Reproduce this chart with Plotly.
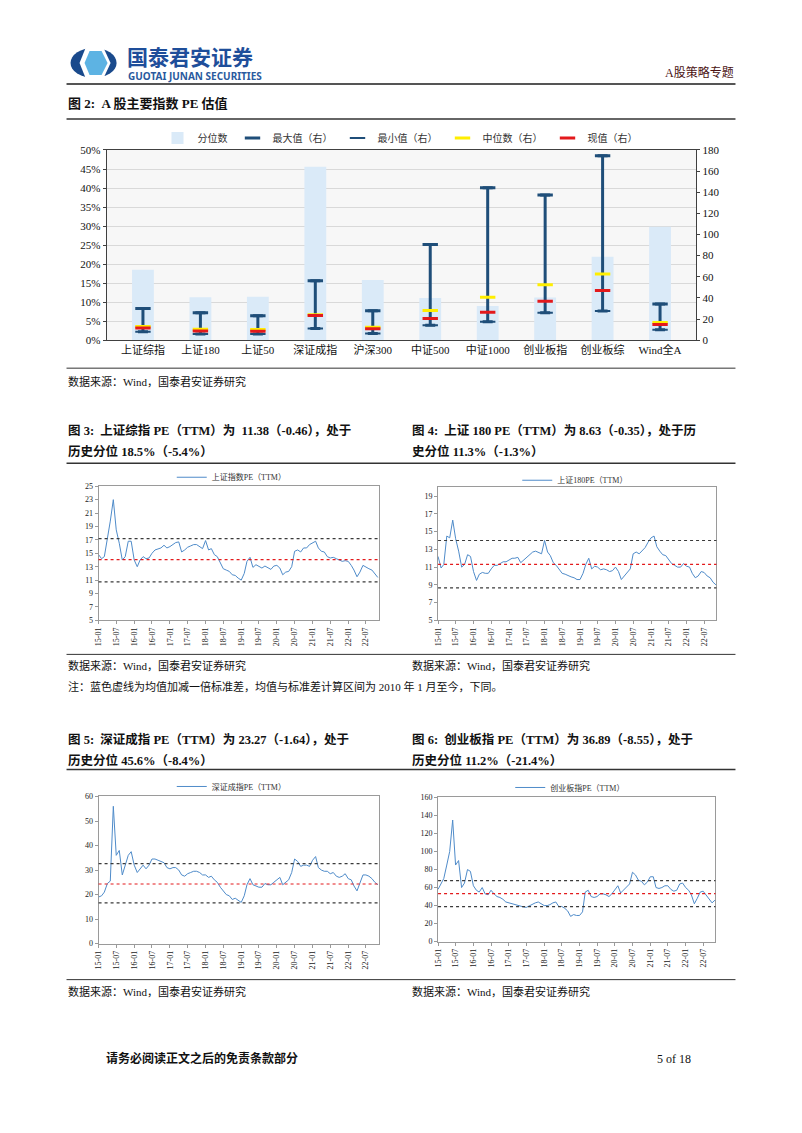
import plotly.graph_objects as go
import pandas as pd

# page is 802x1133; the html body keeps a margin, so the figure is drawn
# 16px smaller.  Page coordinates read off the reference are mapped onto
# figure coordinates with a small measured correction.
OFF = 8
W, H = 802 - 2 * OFF, 1133 - 2 * OFF
SX, BX = 0.9935, 4.6
SY, BY = 0.9885, 6.2


def px(x):
    return ((x - BX) / SX - OFF) / W


def py(y):
    return 1 - ((y - BY) / SY - OFF) / H


SERIF = "Liberation Serif, Noto Sans CJK SC, serif"
NAVY = "#1F4E79"
LINE_BLUE = "#4F8BC9"

# ---- 图2: A股主要指数PE估值 ----
index_names = ["上证综指", "上证180", "上证50", "深证成指", "沪深300",
               "中证500", "中证1000", "创业板指", "创业板综", "Wind全A"]
pe_percentile = [0.185, 0.113, 0.114, 0.456, 0.158, 0.111, 0.090, 0.112, 0.219, 0.298]
pe_max = [30.0, 26.0, 23.0, 56.2, 27.8, 90.6, 144.3, 137.4, 174.6, 34.1]
pe_min = [7.9, 5.7, 5.7, 11.0, 6.3, 14.2, 17.4, 25.9, 27.5, 9.8]
pe_median = [13.0, 10.3, 10.0, 24.0, 12.3, 28.1, 40.7, 52.4, 62.5, 16.7]
pe_now = [11.38, 8.63, 8.4, 23.27, 10.8, 20.5, 26.5, 36.89, 47.1, 14.8]

# ---- 图3-6: 指数PE(TTM) 月度走势 ----
month_dates = pd.date_range("2015-01-01", "2022-10-01", freq="MS").strftime("%Y-%m-%d").tolist() + ["2022-10-31"]
tick_dates = pd.date_range("2015-01-01", "2022-07-01", freq="6MS")
tick_vals = tick_dates.strftime("%Y-%m-%d").tolist()
tick_text = tick_dates.strftime("%y-%m").tolist()

sse_pe = [
    14.8, 14.2, 14.5, 17.0, 19.8, 23.0, 18.5, 16.5, 14.0, 14.5, 16.8, 16.8,
    14.0, 13.0, 14.0, 14.5, 14.2, 14.3, 15.0, 15.5, 15.6, 15.8, 16.2, 15.8,
    16.0, 16.3, 16.6, 16.7, 15.2, 15.5, 15.9, 16.1, 16.3, 16.3, 16.0, 15.7,
    16.9, 15.5, 15.7, 14.8, 14.5, 13.7, 12.7, 12.5, 12.3, 11.8, 11.7, 11.3,
    11.0, 12.0, 13.8, 14.4, 12.9, 13.3, 13.0, 12.8, 13.1, 12.8, 12.6, 13.1,
    13.2, 12.8, 11.8, 12.2, 12.3, 13.0, 15.3, 15.5, 15.2, 15.8, 15.8, 16.3,
    16.5, 16.8, 15.8, 15.3, 15.2, 14.5, 14.3, 14.4, 14.2, 14.0, 13.8, 13.9,
    13.8, 13.2, 12.5, 11.5, 12.2, 13.2, 12.9, 12.7, 12.5, 11.9, 11.4,
]
sse180_pe = [
    12.2, 10.9, 11.3, 14.5, 14.3, 16.3, 14.2, 12.8, 11.0, 11.3, 12.4, 12.2,
    10.5, 9.5, 10.2, 10.4, 10.3, 10.3, 10.8, 11.2, 11.2, 11.4, 11.6, 11.6,
    11.8, 12.0, 12.0, 12.1, 11.5, 11.8, 12.1, 12.4, 12.7, 12.8, 12.6, 12.5,
    14.0, 12.7, 12.3, 11.5, 11.2, 10.8, 10.3, 10.2, 10.0, 9.9, 9.8, 9.6,
    9.6, 10.3, 11.3, 12.0, 10.8, 11.1, 11.0, 10.7, 10.8, 10.7, 10.5, 10.6,
    11.0, 10.5, 9.6, 10.0, 10.3, 10.8, 12.5, 12.7, 12.5, 12.8, 13.2, 13.8,
    14.3, 14.5, 13.3, 12.8, 12.4, 12.3, 11.8, 11.4, 11.2, 11.0, 11.0, 11.4,
    11.1, 11.0, 10.3, 9.8, 10.0, 10.5, 10.4, 10.0, 9.8, 9.3, 9.0,
]
szse_pe = [
    19.0, 19.5, 21.0, 24.5, 25.5, 56.0, 36.0, 38.0, 28.0, 32.0, 36.0, 37.5,
    32.0, 29.0, 30.5, 32.0, 30.5, 32.0, 34.5, 34.5, 34.0, 33.5, 33.0, 31.0,
    30.5, 31.0, 31.0, 30.0, 28.0, 27.5, 28.5, 29.0, 29.5, 29.5, 29.0, 28.0,
    28.0, 27.0, 27.5, 26.0, 25.0, 23.0, 21.5, 20.0, 19.5, 18.0, 18.5, 17.5,
    16.8, 19.5, 24.0, 26.5, 24.0, 23.5, 23.0, 23.0, 24.5, 24.0, 24.0, 25.0,
    26.0, 27.0, 24.0, 25.0, 26.0, 29.0, 34.5, 33.5, 31.5, 32.0, 32.0, 31.5,
    34.0, 35.5, 31.0, 30.0, 29.5, 29.5, 28.5, 29.0, 27.5, 27.0, 27.5, 28.5,
    26.5, 26.0, 23.5, 21.5, 25.0, 28.0, 28.0, 27.5, 26.5, 25.0, 24.0,
]
chinext_pe = [
    58, 65, 70, 85, 100, 135, 85, 90, 60, 65, 80, 78,
    62, 57, 55, 60, 53, 52, 57, 53, 50, 49, 47, 44,
    43, 42, 41, 40, 39, 38.5, 38, 40, 42, 43, 44, 42,
    40, 40, 41, 43, 44, 39, 39, 37, 34, 28, 30, 29,
    29, 33, 55, 57, 50, 49, 50, 53, 53, 52, 50, 53,
    57, 62, 54, 57, 60, 64, 77, 74, 68, 67, 63, 66,
    72, 72, 60, 59, 60, 62, 62, 58, 56, 57, 64, 65,
    60, 57, 52, 42, 48, 55, 56, 52, 47, 43, 46,
]
# 均值, 均值+1std, 均值-1std
sse_bands = [14.05, 17.2, 10.75]
sse180_bands = [11.3, 14.0, 8.65]
szse_bands = [24.3, 32.6, 16.6]
chinext_bands = [53.3, 67.8, 38.9]

fig = go.Figure()

# ---------------- 图2 ----------------
fig.add_trace(go.Bar(
    x=index_names, y=pe_percentile, name="分位数",
    marker=dict(color="#DAEAF8", line=dict(width=0)), width=0.38,
    xaxis="x", yaxis="y", legend="legend",
))
fig.add_trace(go.Scatter(
    x=index_names, y=pe_max, name="最大值（右）", mode="markers",
    marker=dict(symbol="line-ew", size=11, line=dict(width=3, color=NAVY), color=NAVY),
    error_y=dict(type="data", symmetric=False, array=[0] * len(pe_max),
                 arrayminus=[a - b for a, b in zip(pe_max, pe_min)],
                 thickness=3, width=5, color=NAVY),
    xaxis="x", yaxis="y2", legend="legend",
))
fig.add_trace(go.Scatter(
    x=index_names, y=pe_min, name="最小值（右）", mode="markers",
    marker=dict(symbol="line-ew", size=11, line=dict(width=2, color=NAVY), color=NAVY),
    xaxis="x", yaxis="y2", legend="legend",
))
fig.add_trace(go.Scatter(
    x=index_names, y=pe_median, name="中位数（右）", mode="markers",
    marker=dict(symbol="line-ew", size=11, line=dict(width=3, color="#FFEE00"), color="#FFEE00"),
    xaxis="x", yaxis="y2", legend="legend",
))
fig.add_trace(go.Scatter(
    x=index_names, y=pe_now, name="现值（右）", mode="markers",
    marker=dict(symbol="line-ew", size=11, line=dict(width=3, color="#E3191C"), color="#E3191C"),
    xaxis="x", yaxis="y2", legend="legend",
))

# ---------------- 图3-6 ----------------
panels = [
    dict(name="上证指数PE（TTM）", values=sse_pe, bands=sse_bands, xa="x2", ya="y3",
         dx=(99, 379), dy=(486, 620), yr=[5, 25], yt=list(range(5, 26, 2)),
         leg="legend2", lx=232, ly=477, end="2022-11-12"),
    dict(name="上证180PE（TTM）", values=sse180_pe, bands=sse180_bands, xa="x3", ya="y4",
         dx=(438, 716), dy=(487, 620), yr=[5, 20], yt=list(range(5, 20, 2)),
         leg="legend3", lx=575, ly=480, end="2022-11-05"),
    dict(name="深证成指PE（TTM）", values=szse_pe, bands=szse_bands, xa="x4", ya="y5",
         dx=(99, 379), dy=(796, 943), yr=[0, 60], yt=list(range(0, 61, 10)),
         leg="legend4", lx=232, ly=786, end="2022-11-12"),
    dict(name="创业板指PE（TTM）", values=chinext_pe, bands=chinext_bands, xa="x5", ya="y6",
         dx=(438, 715), dy=(797, 941), yr=[0, 160], yt=list(range(0, 161, 20)),
         leg="legend5", lx=570, ly=787, end="2022-11-05"),
]

layout_axes = {}
for p in panels:
    fig.add_trace(go.Scatter(
        x=month_dates, y=p["values"], name=p["name"], mode="lines",
        line=dict(color=LINE_BLUE, width=1), xaxis=p["xa"], yaxis=p["ya"],
        legend=p["leg"],
    ))
    xkey = "xaxis" + p["xa"][1:]
    ykey = "yaxis" + p["ya"][1:]
    layout_axes[xkey] = dict(
        domain=[px(p["dx"][0]), px(p["dx"][1])], anchor=p["ya"], type="date",
        range=["2015-01-01", p["end"]], tickvals=tick_vals, ticktext=tick_text,
        tickangle=-90, tickfont=dict(size=8, family=SERIF, color="#222"),
        showline=True, linecolor="#9a9a9a", linewidth=1, mirror=True,
        ticks="outside", ticklen=3, tickcolor="#9a9a9a", showgrid=False, zeroline=False,
    )
    layout_axes[ykey] = dict(
        domain=[py(p["dy"][1]), py(p["dy"][0])], anchor=p["xa"], range=p["yr"],
        tickvals=p["yt"], tickfont=dict(size=8, family=SERIF, color="#222"),
        showline=True, linecolor="#9a9a9a", linewidth=1, mirror=True,
        ticks="outside", ticklen=3, tickcolor="#9a9a9a", showgrid=False, zeroline=False,
    )
    layout_axes[p["leg"]] = dict(
        orientation="h", x=px(p["lx"]), xanchor="center", y=py(p["ly"]), yanchor="middle",
        font=dict(size=8, family=SERIF, color="#333"), bgcolor="rgba(0,0,0,0)",
        itemwidth=30,
    )

shapes = [
    # light backdrop of the 图2 plot area
    dict(type="rect", xref="x domain", yref="y domain", x0=0, x1=1, y0=0, y1=1,
         fillcolor="#F7F7F7", line=dict(width=0), layer="below"),
]
for p in panels:
    for i, v in enumerate(p["bands"]):
        shapes.append(dict(
            type="line", xref=p["xa"] + " domain", yref=p["ya"], x0=0, x1=1, y0=v, y1=v,
            line=dict(color="#E31A1C" if i == 0 else "#3a3a3a", width=1.2, dash="dot"),
        ))

# page rules
for y, w, c in [(84, 2, "#555555"), (119, 1.5, "#333333"), (368, 1, "#333333"),
                (463, 1.5, "#333333"), (654, 1, "#333333"), (769, 1.5, "#333333"),
                (979, 1, "#333333")]:
    shapes.append(dict(type="line", xref="paper", yref="paper", x0=px(67), x1=px(735),
                       y0=py(y), y1=py(y), line=dict(color=c, width=w)))

# logo
shapes.append(dict(type="circle", xref="paper", yref="paper", x0=px(71), x1=px(117),
                   y0=py(78), y1=py(48), fillcolor="#1A4A8C", line=dict(width=0)))
shapes.append(dict(type="path", xref="paper", yref="paper",
                   path=f"M {px(86)} {py(48)} L {px(104)} {py(48)} L {px(111)} {py(63)} "
                        f"L {px(104)} {py(78)} L {px(86)} {py(78)} L {px(80)} {py(63)} Z",
                   fillcolor="white", line=dict(width=0)))
shapes.append(dict(type="path", xref="paper", yref="paper",
                   path=f"M {px(90)} {py(51)} L {px(102)} {py(51)} L {px(108)} {py(63)} "
                        f"L {px(102)} {py(75)} L {px(90)} {py(75)} L {px(85)} {py(63)} Z",
                   fillcolor="#5DB3E3", line=dict(width=0)))

annotations = []


def txt(x, y, s, size=11, bold=False, color="#111111", family=SERIF, anchor="left"):
    annotations.append(dict(
        x=px(x), y=py(y), xref="paper", yref="paper", xanchor=anchor, yanchor="middle",
        text=f"<b>{s}</b>" if bold else s, showarrow=False, borderpad=0,
        font=dict(size=size, color=color, family=family),
    ))


txt(126, 56.5, "国泰君安证券", size=21, bold=True, color="#1E4E9A", family="Noto Sans CJK SC")
txt(127, 76.5, "GUOTAI JUNAN SECURITIES", size=10, bold=True, color="#2A5A9E", family="Noto Sans, Liberation Sans")
txt(735, 73, "A股策略专题", size=12, color="#4A1212", anchor="right")
txt(67, 104, "图 2:  A 股主要指数 PE 估值", size=13, bold=True)
txt(67, 381, "数据来源：Wind，国泰君安证券研究", size=11)

txt(67, 430, "图 3:  上证综指 PE（TTM）为  11.38（-0.46），处于", size=12.5, bold=True)
txt(67, 451, "历史分位 18.5%（-5.4%）", size=12.5, bold=True)
txt(411, 430, "图 4:  上证 180 PE（TTM）为 8.63（-0.35），处于历", size=12.5, bold=True)
txt(411, 451, "史分位 11.3%（-1.3%）", size=12.5, bold=True)
txt(67, 665, "数据来源：Wind，国泰君安证券研究", size=11)
txt(411, 665, "数据来源：Wind，国泰君安证券研究", size=11)
txt(67, 686, "注：蓝色虚线为均值加减一倍标准差，均值与标准差计算区间为 2010 年 1 月至今，下同。", size=11)

txt(67, 739, "图 5:  深证成指 PE（TTM）为 23.27（-1.64），处于", size=12.5, bold=True)
txt(67, 760, "历史分位 45.6%（-8.4%）", size=12.5, bold=True)
txt(411, 739, "图 6:  创业板指 PE（TTM）为 36.89（-8.55），处于", size=12.5, bold=True)
txt(411, 760, "历史分位 11.2%（-21.4%）", size=12.5, bold=True)
txt(67, 991, "数据来源：Wind，国泰君安证券研究", size=11)
txt(411, 991, "数据来源：Wind，国泰君安证券研究", size=11)

txt(105, 1058, "请务必阅读正文之后的免责条款部分", size=12, bold=True)
txt(692, 1058, "5 of 18", size=12, anchor="right")

fig.update_layout(
    width=W, height=H, margin=dict(l=0, r=0, t=0, b=0),
    paper_bgcolor="white", plot_bgcolor="white",
    font=dict(family=SERIF, color="#111111"),
    xaxis=dict(
        domain=[px(107), px(696)], anchor="y", type="category",
        tickfont=dict(size=11, family=SERIF, color="#111"),
        showline=True, linecolor="#404040", linewidth=1, mirror=True,
        ticks="", showgrid=False,
    ),
    yaxis=dict(
        domain=[py(340), py(150)], range=[0, 0.5], dtick=0.05, tickformat=".0%",
        tickfont=dict(size=11, family=SERIF, color="#111"),
        showline=True, linecolor="#404040", linewidth=1, mirror=True,
        showgrid=True, gridcolor="#D9D9D9", gridwidth=1, zeroline=False,
        ticks="outside", ticklen=3, tickcolor="#404040",
    ),
    yaxis2=dict(
        overlaying="y", side="right", anchor="x", range=[0, 180], dtick=20,
        tickfont=dict(size=11, family=SERIF, color="#111"),
        showgrid=False, zeroline=False, showline=True, linecolor="#404040",
        ticks="outside", ticklen=3, tickcolor="#404040",
    ),
    legend=dict(
        orientation="h", x=px(400), xanchor="center", y=py(138), yanchor="middle",
        font=dict(size=10, family=SERIF, color="#333"), bgcolor="rgba(0,0,0,0)",
        itemwidth=30, tracegroupgap=0,
    ),
    shapes=shapes,
    annotations=annotations,
    **layout_axes,
)

fig.write_html("out.html")
